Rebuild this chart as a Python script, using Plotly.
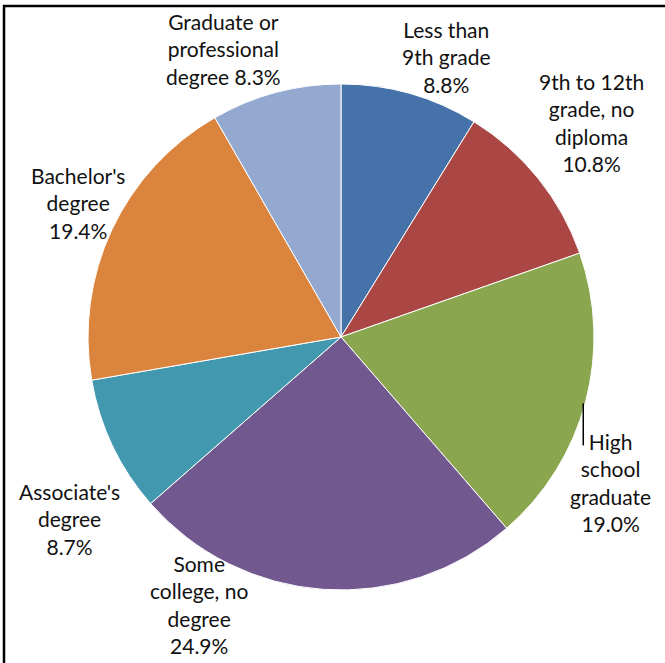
import math
import plotly.graph_objects as go

# Educational attainment shares (percent), clockwise from 12 o'clock
categories = [
    "Less than 9th grade",
    "9th to 12th grade, no diploma",
    "High school graduate",
    "Some college, no degree",
    "Associate's degree",
    "Bachelor's degree",
    "Graduate or professional degree",
]
values = [8.8, 10.8, 19.0, 24.9, 8.7, 19.4, 8.3]
label_lines = [
    ["Less than", "9th grade"],
    ["9th to 12th", "grade, no", "diploma"],
    ["High", "school", "graduate"],
    ["Some", "college, no", "degree"],
    ["Associate's", "degree"],
    ["Bachelor's", "degree"],
    ["Graduate or", "professional", "degree {v:.1f}%"],
]
colors = ["#4572A8", "#AA4744", "#8AA64F", "#71588F", "#4198AF", "#DB843D", "#94A9D0"]

W, H = 665, 663
CX, CY, R = 341, 337, 253

# label placement: (angular shift in degrees, radial distance in px)
label_place = [(4.8, 299), (-1.7, 330), (13.5, 306), (24.0, 303),
               (-8.3, 327), (1.8, 295), (-7.2, 311)]

fig = go.Figure(go.Pie(
    labels=categories,
    values=values,
    sort=False,
    direction="clockwise",
    rotation=0,
    marker=dict(colors=colors, line=dict(color="white", width=1)),
    textinfo="none",
    hoverinfo="label+percent",
    showlegend=False,
    domain=dict(x=[(CX - R) / W, (CX + R) / W], y=[(H - CY - R) / H, (H - CY + R) / H]),
))

total = sum(values)
cum = 0.0
annotations = []
shapes = []
for i, v in enumerate(values):
    mid = (cum + v / 2) / total * 360.0
    cum += v
    shift, dist = label_place[i]
    ang = math.radians(mid + shift)
    px = CX + dist * math.sin(ang)
    py = CY - dist * math.cos(ang)
    lines = [ln.format(v=v) for ln in label_lines[i]]
    if "%" not in lines[-1]:
        lines.append(f"{v:.1f}%")
    annotations.append(dict(
        x=px / W, y=1 - py / H, xref="paper", yref="paper",
        text="<br>".join(lines), showarrow=False,
        xanchor="center", yanchor="middle", align="center",
        font=dict(family="Lato", size=21, color="#111111"),
    ))
    if categories[i] == "High school graduate":
        # short leader line beside the label
        lx = px - 27
        shapes.append(dict(type="line", xref="paper", yref="paper",
                           x0=lx / W, x1=lx / W,
                           y0=1 - (py - 79) / H, y1=1 - (py - 37) / H,
                           line=dict(color="black", width=1.5)))

# chart area frame
shapes.append(dict(type="rect", xref="paper", yref="paper",
                   x0=4 / W, x1=1.05, y0=-0.05, y1=1 - 6 / H,
                   line=dict(color="black", width=2.5)))

fig.update_layout(
    width=W, height=H,
    margin=dict(l=0, r=0, t=0, b=0),
    paper_bgcolor="white",
    plot_bgcolor="white",
    annotations=annotations,
    shapes=shapes,
)

fig.write_html("out.html")
